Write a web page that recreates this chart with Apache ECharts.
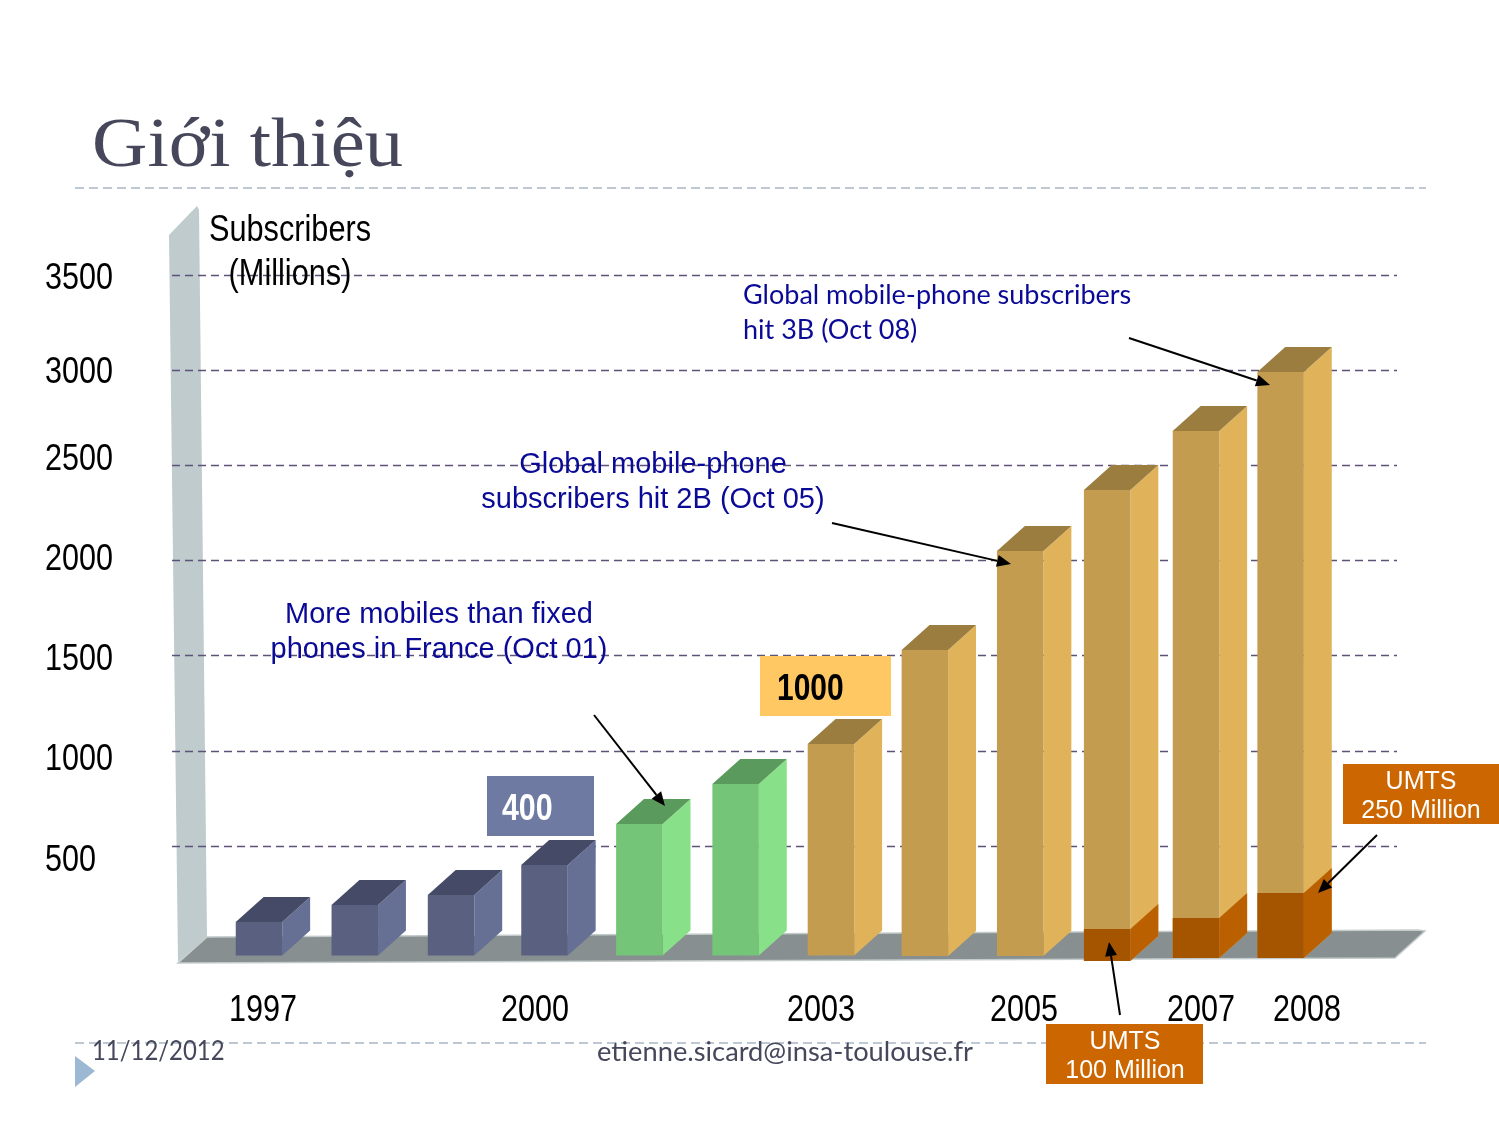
<!DOCTYPE html>
<html>
<head>
<meta charset="utf-8">
<style>html,body{margin:0;padding:0;background:#fff}#c{width:1499px;height:1124px}</style>
<script src="https://cdn.jsdelivr.net/npm/echarts@6/dist/echarts.min.js"></script>
</head>
<body>
<div id="c"></div>
<script>
// ---- data ----
const years = ['1997','1998','1999','2000','2001','2002','2003','2004','2005','2006','2007','2008'];
const labelledYears = ['1997','2000','2003','2005','2007','2008'];
const subscribers = [101,190,243,400,616,826,1036,1530,2050,2370,2680,2990];
const umtsYears = ['2006','2007','2008'];
const umtsTop = [64,122,253];
const yTicks = [500,1000,1500,2000,2500,3000,3500];

// ---- layout / style tables (not data) ----
const barGroup = [0,0,0,0,1,1,2,2,2,2,2,2];
const barBase = [-75,-75,-75,-75,-75,-75,-75,-78,-78,-104,-88,-88];
const barShift = [0,.03,.065,.07,.09,.125,.15,.16,.185,.12,.075,-.015];
const palette = [
  {front:'#596080',side:'#666F94',top:'#454B66'},
  {front:'#75C578',side:'#88E088',top:'#5A9A5C'},
  {front:'#C49C50',side:'#E0B35A',top:'#9A7D3F'}
];
const umtsColors = {front:'#A55500',side:'#BA6000'};
const yLabelNudge = {500:13,1000:7,1500:2,2000:-3,2500:-8,3000:1,3500:2};
const xLabelNudge = {'1997':4,'2000':-3,'2003':4,'2005':21,'2007':12,'2008':25};
const NARROW_X = 0.825;
const SANS = '"Liberation Sans",sans-serif';
const HUMAN = 'Lato,"Open Sans",sans-serif';

function makeBar(params, api, colors, withTop) {
  const i = api.value(0);
  const band = api.size([1, 0])[0];
  const cx = api.coord([i, 0])[0] + barShift[i] * band;
  const halfW = band * 0.25, depth = band * 0.3, rise = 25;
  const yTop = api.coord([i, api.value(1)])[1];
  const yBase = api.coord([i, api.value(2)])[1];
  const xl = cx - halfW, xr = cx + halfW;
  const children = [
    {type:'polygon',shape:{points:[[xr,yTop],[xr+depth,yTop-rise],[xr+depth,yBase-rise],[xr,yBase]]},style:{fill:colors.side}},
    {type:'rect',shape:{x:xl,y:yTop,width:xr-xl,height:yBase-yTop},style:{fill:colors.front}}
  ];
  if (withTop) children.push({type:'polygon',shape:{points:[[xl,yTop],[xl+depth,yTop-rise],[xr+depth,yTop-rise],[xr,yTop]]},style:{fill:colors.top}});
  return {type:'group',children};
}

function arrow(x1,y1,x2,y2){
  const a = Math.atan2(y2-y1,x2-x1), L = 14, W = 6;
  const bx = x2-L*Math.cos(a), by = y2-L*Math.sin(a);
  return [
    {type:'line',z:20,shape:{x1,y1,x2:bx,y2:by},style:{stroke:'#000',lineWidth:2}},
    {type:'polygon',z:20,shape:{points:[[x2,y2],[bx-W*Math.sin(a),by+W*Math.cos(a)],[bx+W*Math.sin(a),by-W*Math.cos(a)]]},style:{fill:'#000'}}
  ];
}
function txt(x,y,text,font,fill,align,weight,size,sx){
  return {type:'text',z:15,x,y,scaleX:sx||1,style:{text,fill,font:(weight||'normal')+' '+size+'px '+font,textAlign:align||'left',textVerticalAlign:'middle'}};
}
function box(x,y,w,h,fill){return {type:'rect',z:12,shape:{x,y,width:w,height:h},style:{fill}};}
function dash(x1,x2,y){return {type:'line',z:1,shape:{x1,y1:y,x2,y2:y},style:{stroke:'#A9B7C4',lineWidth:1.3,lineDash:[9,5]}};}

const chart = echarts.init(document.getElementById('c'),null,{renderer:'canvas'});

chart.setOption({
  animation:false,
  backgroundColor:'#fff',
  grid:[
    {left:172,top:275,width:1225,height:666.2},
    {left:212.5,top:275,width:1116,height:666.2}
  ],
  xAxis:[
    {gridIndex:0,type:'category',data:years,show:false},
    {gridIndex:1,type:'category',data:years,axisLine:{show:false},axisTick:{show:false},splitLine:{show:false},axisLabel:{show:false}}
  ],
  yAxis:[
    {gridIndex:0,type:'value',min:0,max:3500,interval:500,axisLine:{show:false},axisTick:{show:false},
     splitLine:{show:true,showMinLine:false,lineStyle:{color:'#5E5278',width:1.3,type:[8,5]}},
     axisLabel:{show:false}},
    {gridIndex:1,type:'value',min:0,max:3500,interval:500,show:false,splitLine:{show:false}}
  ],
  series:[
    {name:'Subscribers',type:'custom',xAxisIndex:1,yAxisIndex:1,z:5,
     data:subscribers.map((v,i)=>[i,v,barBase[i]]),encode:{x:0,y:1},
     renderItem:(p,api)=>makeBar(p,api,palette[barGroup[api.value(0)]],true)},
    {name:'UMTS',type:'custom',xAxisIndex:1,yAxisIndex:1,z:6,
     data:umtsTop.map((v,k)=>{const i=years.indexOf(umtsYears[k]);return [i,v,barBase[i]];}),encode:{x:0,y:1},
     renderItem:(p,api)=>makeBar(p,api,umtsColors,false)},
    {name:'Value ticks',type:'custom',xAxisIndex:0,yAxisIndex:0,z:7,silent:true,
     data:yTicks.map(v=>[0,v]),encode:{x:0,y:1},
     renderItem:(p,api)=>{const v=api.value(1);return {type:'text',x:45,y:api.coord([0,v])[1]+yLabelNudge[v]+2,scaleX:NARROW_X,
       style:{text:String(v),fill:'#000',font:'37px '+SANS,textAlign:'left',textVerticalAlign:'middle'}};}},
    {name:'Year ticks',type:'custom',xAxisIndex:1,yAxisIndex:1,z:7,silent:true,
     data:labelledYears.map(y=>[years.indexOf(y),0]),encode:{x:0,y:1},
     renderItem:(p,api)=>{const y=years[api.value(0)],c=api.coord([api.value(0),0]);return {type:'text',x:c[0]+xLabelNudge[y],y:c[1]+70,scaleX:NARROW_X,
       style:{text:y,fill:'#000',font:'37px '+SANS,textAlign:'center',textVerticalAlign:'middle'}};}}
  ],
  graphic:{elements:[
    // wall and floor of the 3D chart box
    {type:'polygon',z:-1,shape:{points:[[169,235],[197,206],[199,210],[207,937],[178,962]]},style:{fill:'#BFCBCD'}},
    {type:'polygon',z:-1,shape:{points:[[207,937],[1418,930],[1425,931],[1395,958],[178,963]]},style:{fill:'#878F90',stroke:'#C4CBCB',lineWidth:1.5}},
    // slide furniture
    dash(75,1426,188),dash(75,1426,1043),
    {type:'polygon',z:1,shape:{points:[[75,1056],[75,1087],[95,1071]]},style:{fill:'#9DB8D2'}},
    txt(92,148,'Giới thiệu','"Liberation Serif",serif','#46475A','left','normal',70,1.096),
    txt(92,1052,'11/12/2012',HUMAN,'#46475A','left','normal',26,0.92),
    txt(597,1052,'etienne.sicard@insa-toulouse.fr',HUMAN,'#46475A','left','normal',27,1.01),
    // axis title
    txt(290,231,'Subscribers',SANS,'#000','center','normal',37,0.83),
    txt(290,275,'(Millions)',SANS,'#000','center','normal',37,0.83),
    // annotations
    txt(743,295,'Global mobile-phone subscribers',HUMAN,'#0A0A96','left','normal',27),
    txt(743,330,'hit 3B (Oct 08)',HUMAN,'#0A0A96','left','normal',27),
    txt(653,465,'Global mobile-phone',SANS,'#0A0A96','center','normal',29),
    txt(653,500,'subscribers hit 2B (Oct 05)',SANS,'#0A0A96','center','normal',29),
    txt(439,615,'More mobiles than fixed',SANS,'#0A0A96','center','normal',29),
    txt(439,650,'phones in France (Oct 01)',SANS,'#0A0A96','center','normal',29),
    // value boxes
    box(487,776,107,60,'#6E7AA2'),txt(502,810,'400',SANS,'#fff','left','bold',37,0.82),
    box(760,656,131,60,'#FFC862'),txt(777,690,'1000',SANS,'#000','left','bold',37,0.81),
    box(1343,764,156,60,'#CC6600'),txt(1421,782,'UMTS',SANS,'#fff','center','normal',25),txt(1421,811,'250 Million',SANS,'#fff','center','normal',25),
    box(1046,1024,157,60,'#CC6600'),txt(1125,1042,'UMTS',SANS,'#fff','center','normal',25),txt(1125,1071,'100 Million',SANS,'#fff','center','normal',25),
    // arrows
    ...arrow(1129,338,1270,385),
    ...arrow(832,523,1011,564),
    ...arrow(594,715,665,806),
    ...arrow(1120,1015,1109,942),
    ...arrow(1377,835,1318,893)
  ]}
});
</script>
</body>
</html>
